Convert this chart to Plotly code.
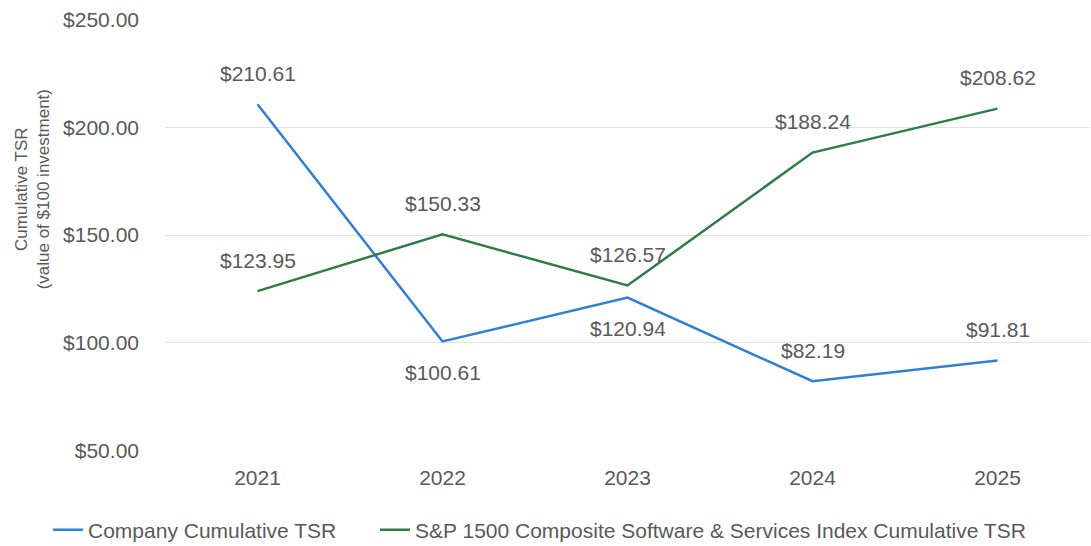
import plotly.graph_objects as go

years = ["2021", "2022", "2023", "2024", "2025"]
company = [210.61, 100.61, 120.94, 82.19, 91.81]
sp1500 = [123.95, 150.33, 126.57, 188.24, 208.62]
company_label_side = [1, -1, -1, 1, 1]
sp_label_side = [1, 1, 1, 1, 1]
y_ticks = [50, 100, 150, 200, 250]

BLUE = "#2f7fd6"
GREEN = "#2e7d45"
TXT = "#595959"
FONT = "Liberation Sans, Arial, sans-serif"
FS = 21

fig = go.Figure()
fig.add_trace(go.Scatter(x=years, y=company, mode="lines",
                         name="Company Cumulative TSR", legend="legend",
                         line=dict(color=BLUE, width=2.5)))
fig.add_trace(go.Scatter(x=years, y=sp1500, mode="lines", legend="legend2",
                         name="S&P 1500 Composite Software & Services Index Cumulative TSR",
                         line=dict(color=GREEN, width=2.5)))

ann = []
for vals, sides in ((company, company_label_side), (sp1500, sp_label_side)):
    for i, (v, s) in enumerate(zip(vals, sides)):
        ann.append(dict(x=i, y=v, xref="x", yref="y", text=f"${v:.2f}", showarrow=False,
                        yshift=31 * s, font=dict(size=FS, color=TXT, family=FONT)))

ann.append(dict(x=-0.143, y=0.605, xref="paper", yref="paper", textangle=-90,
                text="Cumulative TSR<br>(value of $100 investment)", showarrow=False,
                xanchor="center", yanchor="middle",
                font=dict(size=17, color=TXT, family=FONT)))

leg_common = dict(orientation="h", xref="container", xanchor="left",
                  yref="container", y=0.029, yanchor="middle",
                  font=dict(size=FS, color=TXT, family=FONT))

fig.update_layout(
    width=1091, height=546,
    margin=dict(l=165, r=1, t=19, b=95, autoexpand=False),
    paper_bgcolor="white", plot_bgcolor="white",
    font=dict(family=FONT, size=FS, color=TXT),
    annotations=ann,
    showlegend=True,
    legend=dict(x=48 / 1091, **leg_common),
    legend2=dict(x=375 / 1091, **leg_common),
    xaxis=dict(type="category", range=[-0.5, 4.5], showgrid=False, zeroline=False,
               showline=False, ticks="", ticklabelstandoff=12,
               tickfont=dict(size=FS, color=TXT)),
    yaxis=dict(range=[49.8, 250.2], tickvals=y_ticks, ticktext=[f"${t:.2f}" for t in y_ticks],
               showgrid=True, gridcolor="#e3e3e3", gridwidth=1, zeroline=False,
               showline=False, ticks="", ticklabelstandoff=25,
               tickfont=dict(size=FS, color=TXT)),
)

fig.write_html("out.html")
